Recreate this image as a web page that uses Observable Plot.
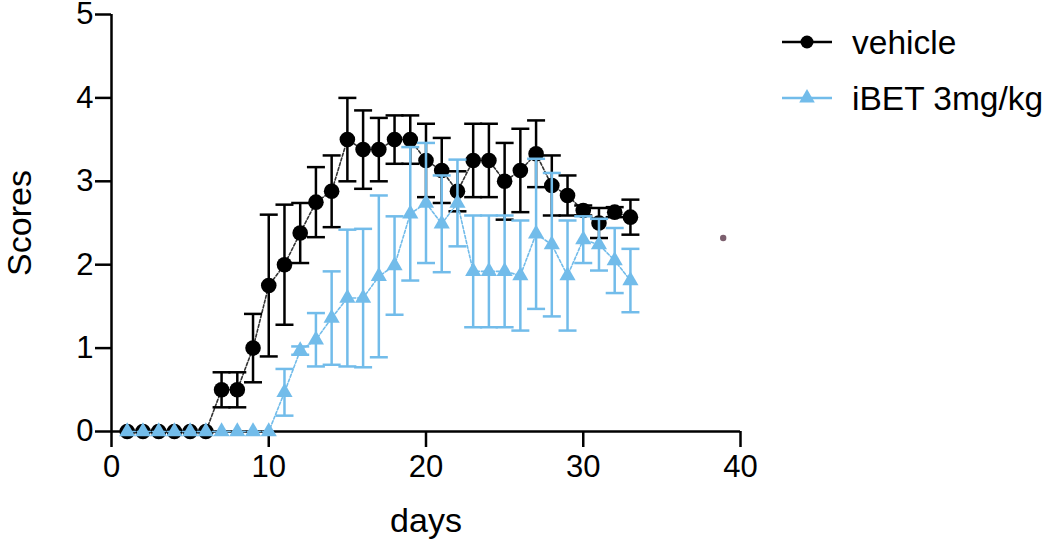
<!DOCTYPE html>
<html>
<head>
<meta charset="utf-8">
<script src="https://cdn.jsdelivr.net/npm/d3@7"></script>
<script src="https://cdn.jsdelivr.net/npm/@observablehq/plot@0.6"></script>
<style>
  html, body { margin: 0; padding: 0; background: #fff; }
  #wrap { position: relative; width: 1050px; height: 544px; font-family: "Liberation Sans", Arial, sans-serif; }
  #legend { position: absolute; left: 0; top: 0; pointer-events: none; }
</style>
</head>
<body>
<div id="wrap"></div>
<script>
// ---- data ----
const days = d3.range(1, 34); // days 1..33
const vehicleMean = [0,0,0,0,0,0,0.5,0.5,1.0,1.75,2.0,2.38,2.75,2.88,3.5,3.38,3.38,3.5,3.5,3.25,3.13,2.88,3.25,3.25,3.0,3.13,3.33,2.95,2.83,2.65,2.5,2.63,2.57];
const vehicleSem  = [0,0,0,0,0,0,0.21,0.21,0.41,0.85,0.72,0.36,0.42,0.43,0.5,0.47,0.38,0.29,0.29,0.44,0.39,0.24,0.44,0.44,0.46,0.5,0.4,0.36,0.24,0.06,0.18,0.06,0.21];
const ibetMean = [0,0,0,0,0,0,0,0,0,0,0.47,0.97,1.1,1.36,1.6,1.6,1.86,1.99,2.61,2.74,2.49,2.74,1.92,1.92,1.92,1.87,2.37,2.24,1.87,2.3,2.24,2.05,1.81];
const ibetSem  = [0,0,0,0,0,0,0,0,0,0,0.28,0.05,0.32,0.56,0.82,0.83,0.97,0.59,0.8,0.72,0.58,0.52,0.67,0.67,0.67,0.66,0.9,0.86,0.66,0.28,0.31,0.39,0.38];
const seriesNames = ["vehicle", "iBET 3mg/kg"];
const seriesColors = ["#000000", "#72bcea"];
const xTicks = [0, 10, 20, 30, 40];
const yTicks = [0, 1, 2, 3, 4, 5];
const specks = [{day: 38.9, value: 2.32}];

const vehicle = days.map((d, i) => ({day: d, mean: vehicleMean[i], sem: vehicleSem[i]}));
const ibet = days.map((d, i) => ({day: d, mean: ibetMean[i], sem: ibetSem[i]}));

const capSymbol = {
  draw(ctx, size) {
    const w = Math.sqrt(size / Math.PI);
    ctx.moveTo(-w, 0);
    ctx.lineTo(w, 0);
  }
};

function seriesMarks(data, color, symbol, r, lineColor) {
  const err = data.filter(d => d.sem > 0);
  return [
    Plot.line(data, {x: "day", y: "mean", stroke: lineColor, strokeWidth: 1.6, strokeDasharray: "3,2"}),
    Plot.ruleX(err, {x: "day", y1: d => d.mean - d.sem, y2: d => d.mean + d.sem, stroke: color, strokeWidth: 2.5}),
    Plot.dot(err, {x: "day", y: d => d.mean + d.sem, symbol: capSymbol, r: 9, stroke: color, strokeWidth: 2.5, fill: "none"}),
    Plot.dot(err, {x: "day", y: d => d.mean - d.sem, symbol: capSymbol, r: 9, stroke: color, strokeWidth: 2.5, fill: "none"}),
    Plot.dot(data, {x: "day", y: "mean", symbol, r, fill: color, stroke: "none"})
  ];
}

const chart = Plot.plot({
  width: 1050,
  height: 544,
  marginLeft: 111,
  marginRight: 310,
  marginTop: 14,
  marginBottom: 113,
  style: {fontFamily: "'Liberation Sans', Arial, sans-serif", fontSize: "31px", color: "#000", background: "#fff"},
  x: {domain: [0, 40]},
  y: {domain: [0, 5]},
  marks: [
    Plot.axisX({ticks: xTicks, tickFormat: d3.format("d"), tickSize: 16, tickPadding: 7, strokeWidth: 2.5, fontSize: 31,
      label: null}),
    Plot.axisY({ticks: yTicks, tickFormat: d3.format("d"), tickSize: 16, tickPadding: 2, strokeWidth: 2.5, fontSize: 31,
      label: null}),
    Plot.axisX({ticks: [], tickSize: 0, label: "days", labelAnchor: "center", labelArrow: "none", labelOffset: 100, fontSize: 34}),
    Plot.axisY({ticks: [], tickSize: 0, label: "Scores", labelAnchor: "center", labelArrow: "none", labelOffset: 105, fontSize: 34}),
    Plot.ruleY([0], {stroke: "#000", strokeWidth: 2.5}),
    Plot.ruleX([0], {stroke: "#000", strokeWidth: 2.5}),
    ...seriesMarks(vehicle, seriesColors[0], "circle", 7.8, "#333"),
    ...seriesMarks(ibet, seriesColors[1], "triangle", 6, seriesColors[1]),
    Plot.dot(specks, {x: "day", y: "value", r: 3.2, fill: "#7c5f6e"})
  ]
});
document.getElementById("wrap").appendChild(chart);

// ---- legend ----
const leg = d3.select("#wrap").append("svg")
  .attr("id", "legend").attr("width", 1050).attr("height", 544)
  .style("font-family", "'Liberation Sans', Arial, sans-serif");
const rows = seriesNames.map((name, i) => ({name, color: seriesColors[i], i}));
const g = leg.selectAll("g").data(rows).join("g")
  .attr("transform", d => `translate(0, ${42 + d.i * 56})`);
g.append("line").attr("x1", 782).attr("x2", 832).attr("y1", 0).attr("y2", 0)
  .attr("stroke", d => d.color).attr("stroke-width", 2.5);
g.append("path")
  .attr("transform", "translate(807,0)")
  .attr("d", d => d.i === 0 ? d3.symbol(d3.symbolCircle, Math.PI * 6.5 * 6.5)() : d3.symbol(d3.symbolTriangle, Math.PI * 5.8 * 5.8)())
  .attr("fill", d => d.color);
g.append("text").attr("x", 852).attr("y", 0).attr("dy", "0.36em")
  .attr("font-size", 33.5).attr("fill", "#000").text(d => d.name);
</script>
</body>
</html>
